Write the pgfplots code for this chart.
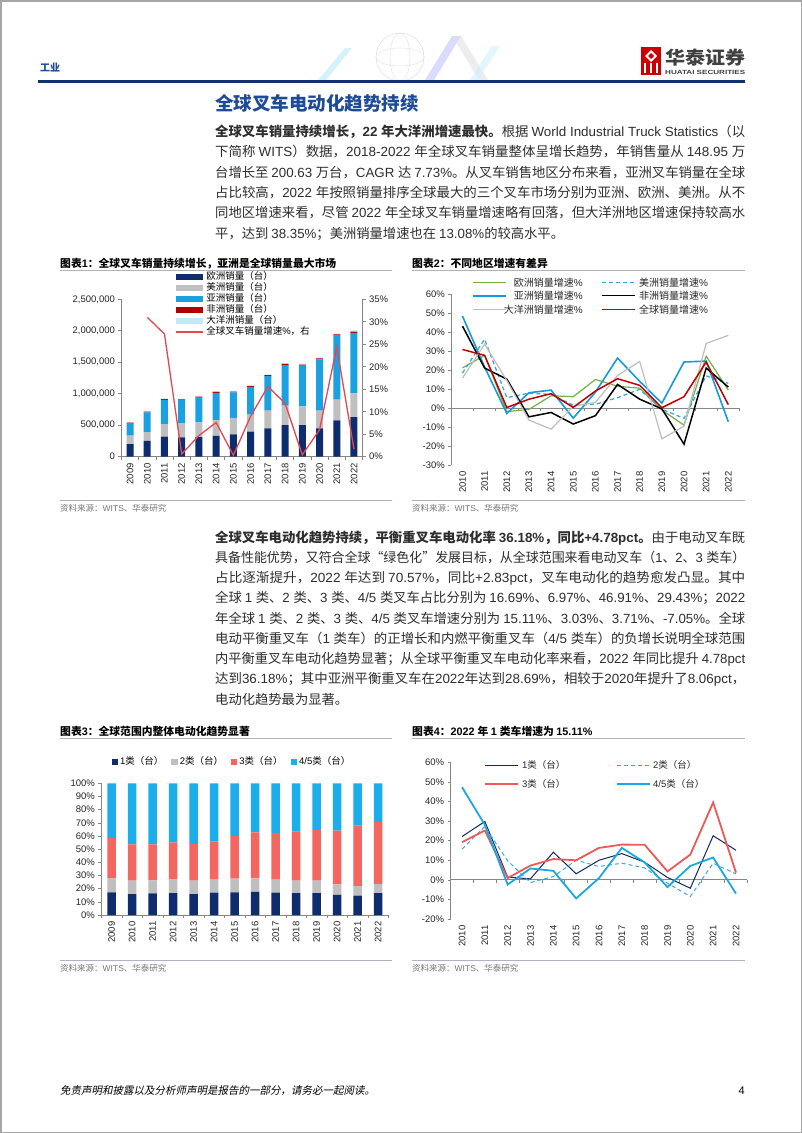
\documentclass[border=0pt]{standalone}
\usepackage{graphicx}
\usepackage{pgfplots}
\pgfplotsset{compat=1.18}
\usepackage{fontspec}
\setmainfont{Liberation Sans}
\newfontfamily\cjkup{Noto Sans CJK SC}
\newfontfamily\cjkslant{Noto Sans CJK SC}[FakeSlant=0.2]
\newcommand\cjkfont{\cjkup}
\XeTeXinterchartokenstate=1
\newXeTeXintercharclass\CJKcls
\newcount\cjkcnt
\def\setcjkrange#1#2{\cjkcnt=#1\relax\loop\XeTeXcharclass\cjkcnt=\CJKcls\relax\ifnum\cjkcnt<#2\relax\advance\cjkcnt by 1\relax\repeat}
\setcjkrange{"4E00}{"9FFF}
\setcjkrange{"3000}{"303F}
\setcjkrange{"FF00}{"FFEF}
\XeTeXcharclass"201C=\CJKcls
\XeTeXcharclass"201D=\CJKcls
\XeTeXinterchartoks 0 \CJKcls = {\cjkfont}
\XeTeXinterchartoks 4095 \CJKcls = {\cjkfont}
\XeTeXinterchartoks \CJKcls 0 = {\rmfamily}
\XeTeXinterchartoks 4095 0 = {\rmfamily}

\definecolor{hdrnavy}{RGB}{16,51,112}
\definecolor{titleblue}{RGB}{30,75,150}
\definecolor{ulgray}{RGB}{170,180,195}
\definecolor{srcgray}{RGB}{120,120,120}
\definecolor{axgray}{RGB}{134,134,134}
\definecolor{eu}{RGB}{13,45,110}
\definecolor{am}{RGB}{191,191,191}
\definecolor{as}{RGB}{27,161,226}
\definecolor{af}{RGB}{176,0,0}
\definecolor{oc}{RGB}{197,232,247}
\definecolor{glred}{RGB}{228,72,78}
\definecolor{ggreen}{RGB}{118,176,71}
\definecolor{gdash}{RGB}{60,168,222}
\definecolor{gasia}{RGB}{23,155,215}
\definecolor{gocean}{RGB}{190,190,190}
\definecolor{gglobal}{RGB}{192,0,0}
\definecolor{cA}{RGB}{14,44,110}
\definecolor{cB}{RGB}{191,191,191}
\definecolor{cC}{RGB}{244,102,96}
\definecolor{cD}{RGB}{28,174,234}
\definecolor{lA}{RGB}{16,42,100}
\definecolor{lC}{RGB}{240,88,88}
\definecolor{lD}{RGB}{26,168,224}

\newcommand\bodyf{\fontsize{13.3}{16}\selectfont\color{black!82}}
\newcommand\fl[2]{\node[anchor=base west, inner sep=0pt] at (215pt,-#1pt) {\resizebox{530pt}{\height}{\bodyf #2}};}
\newcommand\nl[2]{\node[anchor=base west, inner sep=0pt] at (215pt,-#1pt) {\bodyf #2};}
\newcommand\lgB{\fontsize{10}{11}\selectfont\color{black!85}}
\newcommand\lgD{\fontsize{9.5}{10}\selectfont\color{black!85}}

\pgfplotsset{
  base/.style={scale only axis, anchor=south west, clip=false,
    axis line style={axgray, line width=0.7pt},
    tick style={axgray, line width=0.6pt},
    tick align=outside, major tick length=3pt, minor tick length=3pt,
    tick label style={font=\fontsize{9.5}{10}\selectfont, text=black!85},
    /pgf/number format/assume math mode=true,
    xticklabel style={rotate=90, anchor=east},
    major x tick style={draw=none}},
  barleg/.style={legend image code/.code={\draw[##1,draw=none] (0pt,-2.8pt) rectangle (27pt,2.8pt);}},
  sqleg/.style={legend image code/.code={\draw[##1,draw=none] (0pt,-3.2pt) rectangle (6.4pt,3.2pt);}},
  ll/.style 2 args={legend image code/.code={\draw[#1] (0pt,0pt) -- (#2,0pt);}},
}

\begin{document}
\begin{tikzpicture}
\useasboundingbox (0,0) rectangle (802pt,-1133pt);
\fill[white] (0,0) rectangle (802pt,-1133pt);
\draw[gray!70, line width=1.5pt] (0.75pt,-0.75pt) rectangle (801.25pt,-1132.25pt);

% watermark
\begin{scope}[opacity=0.55]
\draw[gray!40, line width=0.6pt] (400pt,-57pt) circle (24pt);
\draw[gray!35, line width=0.5pt] (400pt,-57pt) ellipse (10pt and 24pt);
\draw[gray!35, line width=0.5pt] (400pt,-57pt) ellipse (24pt and 9pt);
\fill[cyan!30] (318pt,-80pt) -- (345pt,-48pt) -- (352pt,-48pt) -- (326pt,-80pt) -- cycle;
\fill[blue!25] (425pt,-80pt) -- (452pt,-36pt) -- (461pt,-36pt) -- (434pt,-80pt) -- cycle;
\fill[gray!25] (452pt,-36pt) -- (461pt,-36pt) -- (488pt,-80pt) -- (479pt,-80pt) -- cycle;
\fill[cyan!20] (470pt,-80pt) -- (492pt,-46pt) -- (500pt,-46pt) -- (478pt,-80pt) -- cycle;
\end{scope}

% header
\node[anchor=base west, inner sep=0pt] at (40pt,-71pt) {\fontsize{10}{11}\selectfont\bfseries\color{titleblue}工业};
\fill[hdrnavy] (38pt,-79.5pt) rectangle (745pt,-82.5pt);
\fill[red!80!black] (641pt,-47pt) rectangle (661pt,-75pt);
\fill[white] (651pt,-50pt) -- (657pt,-56pt) -- (651pt,-62pt) -- (645pt,-56pt) -- cycle;
\fill[red!80!black] (651pt,-53pt) -- (654pt,-56pt) -- (651pt,-59pt) -- (648pt,-56pt) -- cycle;
\fill[white] (644pt,-63pt) rectangle (646pt,-73pt);
\fill[white] (650pt,-63pt) rectangle (652pt,-73pt);
\fill[white] (656pt,-63pt) rectangle (658pt,-73pt);
\node[anchor=base west, inner sep=0pt] at (665pt,-64pt) {\resizebox{80pt}{\height}{\fontsize{18}{19}\selectfont\bfseries\color{black!75}华泰证券}};
\node[anchor=base west, inner sep=0pt] at (665pt,-74pt) {\resizebox{80pt}{\height}{\fontsize{6}{7}\selectfont\bfseries\color{black!75}HUATAI SECURITIES}};

% section title
\node[anchor=base west, inner sep=0pt] at (215pt,-110pt) {\fontsize{18.5}{20}\selectfont\bfseries\color{titleblue}全球叉车电动化趋势持续};

% paragraph 1
\fl{136.5}{{\bfseries 全球叉车销量持续增长，22 年大洋洲增速最快。}根据 World Industrial Truck Statistics（以}
\fl{156.8}{下简称 WITS）数据，2018-2022 年全球叉车销量整体呈增长趋势，年销售量从 148.95 万}
\fl{177.1}{台增长至 200.63 万台，CAGR 达 7.73\%。从叉车销售地区分布来看，亚洲叉车销量在全球}
\fl{197.4}{占比较高，2022 年按照销量排序全球最大的三个叉车市场分别为亚洲、欧洲、美洲。从不}
\fl{217.7}{同地区增速来看，尽管 2022 年全球叉车销量增速略有回落，但大洋洲地区增速保持较高水}
\nl{238}{平，达到 38.35\%；美洲销量增速也在 13.08\%的较高水平。}

% paragraph 2
\fl{542}{{\bfseries 全球叉车电动化趋势持续，平衡重叉车电动化率 36.18\%，同比+4.78pct。}由于电动叉车既}
\fl{562.25}{具备性能优势，又符合全球“绿色化”发展目标，从全球范围来看电动叉车（1、2、3 类车）}
\fl{582.5}{占比逐渐提升，2022 年达到 70.57\%，同比+2.83pct，叉车电动化的趋势愈发凸显。其中}
\fl{602.75}{全球 1 类、2 类、3 类、4/5 类叉车占比分别为 16.69\%、6.97\%、46.91\%、29.43\%；2022}
\fl{623}{年全球 1 类、2 类、3 类、4/5 类叉车增速分别为 15.11\%、3.03\%、3.71\%、-7.05\%。全球}
\fl{643.25}{电动平衡重叉车（1 类车）的正增长和内燃平衡重叉车（4/5 类车）的负增长说明全球范围}
\fl{663.5}{内平衡重叉车电动化趋势显著；从全球平衡重叉车电动化率来看，2022 年同比提升 4.78pct}
\fl{683.75}{达到36.18\%；其中亚洲平衡重叉车在2022年达到28.69\%，相较于2020年提升了8.06pct，}
\nl{704}{电动化趋势最为显著。}

% chart titles, rules, sources
\node[anchor=base west, inner sep=0pt] at (60pt,-267pt) {\fontsize{10.8}{12}\selectfont\bfseries 图表1：全球叉车销量持续增长，亚洲是全球销量最大市场};
\node[anchor=base west, inner sep=0pt] at (412pt,-267pt) {\fontsize{10.8}{12}\selectfont\bfseries 图表2：不同地区增速有差异};
\node[anchor=base west, inner sep=0pt] at (60pt,-735pt) {\fontsize{10.8}{12}\selectfont\bfseries 图表3：全球范围内整体电动化趋势显著};
\node[anchor=base west, inner sep=0pt] at (412pt,-735pt) {\fontsize{10.8}{12}\selectfont\bfseries 图表4：2022 年 1 类车增速为 15.11\%};
\draw[ulgray, line width=0.8pt] (60pt,-270.5pt) -- (392pt,-270.5pt);
\draw[ulgray, line width=0.8pt] (412pt,-270.5pt) -- (745pt,-270.5pt);
\draw[ulgray, line width=0.8pt] (60pt,-738.5pt) -- (392pt,-738.5pt);
\draw[ulgray, line width=0.8pt] (412pt,-738.5pt) -- (745pt,-738.5pt);
\draw[ulgray, line width=0.8pt] (60pt,-500pt) -- (392pt,-500pt);
\draw[ulgray, line width=0.8pt] (412pt,-500pt) -- (745pt,-500pt);
\draw[ulgray, line width=0.8pt] (60pt,-960pt) -- (392pt,-960pt);
\draw[ulgray, line width=0.8pt] (412pt,-960pt) -- (745pt,-960pt);
\node[anchor=base west, inner sep=0pt] at (60pt,-511pt) {\fontsize{8.5}{9}\selectfont\color{srcgray}资料来源：WITS、华泰研究};
\node[anchor=base west, inner sep=0pt] at (412pt,-511pt) {\fontsize{8.5}{9}\selectfont\color{srcgray}资料来源：WITS、华泰研究};
\node[anchor=base west, inner sep=0pt] at (60pt,-971pt) {\fontsize{8.5}{9}\selectfont\color{srcgray}资料来源：WITS、华泰研究};
\node[anchor=base west, inner sep=0pt] at (412pt,-971pt) {\fontsize{8.5}{9}\selectfont\color{srcgray}资料来源：WITS、华泰研究};

% footer
\node[anchor=base west, inner sep=0pt] at (60pt,-1094pt) {\fontsize{10.5}{11}\selectfont\renewcommand\cjkfont{\cjkslant}免责声明和披露以及分析师声明是报告的一部分，请务必一起阅读。};
\node[anchor=base east, inner sep=0pt] at (745pt,-1094pt) {\fontsize{11}{12}\selectfont 4};

% ---------- Chart 1 ----------
\begin{axis}[base,
  at={(121.4pt,-456.7pt)}, width=241.2pt, height=157.4pt,
  xmin=-0.5, xmax=13.5, ymin=0, ymax=2500000,
  axis x line*=bottom, axis y line*=left,
  ybar stacked, bar width=7pt,
  xtick={0,...,13},
  xticklabels={2009,2010,2011,2012,2013,2014,2015,2016,2017,2018,2019,2020,2021,2022},
  minor xtick={-0.5,0.5,...,13.5},
  ytick={0,500000,1000000,1500000,2000000,2500000},
  scaled y ticks=false,
  yticklabel style={/pgf/number format/.cd, fixed, 1000 sep={,}},
  legend style={at={(0.2222,1.1766)}, anchor=north west, draw=none, fill=none,
    inner sep=0pt, outer sep=0pt, font=\fontsize{9.5}{10}\selectfont, row sep=0pt,
    nodes={inner sep=0pt, text height=7.5pt, text depth=3.5pt},
    /tikz/every odd column/.append style={column sep=3pt}},
  legend cell align=left,
]
\addplot[fill=eu, draw=none, barleg] coordinates {(0,200000)(1,250000)(2,318000)(3,307000)(4,310000)(5,330000)(6,355000)(7,400000)(8,450000)(9,500000)(10,500000)(11,450000)(12,578000)(13,630000)};
\addlegendentry{欧洲销量（台）}
\addplot[fill=am, draw=none, barleg] coordinates {(0,135000)(1,140000)(2,200000)(3,225000)(4,235000)(5,250000)(6,260000)(7,270000)(8,280000)(9,310000)(10,300000)(11,280000)(12,328000)(13,377000)};
\addlegendentry{美洲销量（台）}
\addplot[fill=as, draw=none, barleg] coordinates {(0,200000)(1,315000)(2,385000)(3,365000)(4,395000)(5,435000)(6,405000)(7,440000)(8,550000)(9,645000)(10,645000)(11,817000)(12,1024000)(13,960000)};
\addlegendentry{亚洲销量（台）}
\addplot[fill=af, draw=none, barleg] coordinates {(0,8000)(1,12000)(2,13000)(3,13000)(4,14000)(5,14000)(6,13000)(7,13000)(8,16000)(9,18000)(10,17000)(11,15000)(12,15000)(13,18000)};
\addlegendentry{非洲销量（台）}
\addplot[fill=oc, draw=none, barleg] coordinates {(0,8000)(1,10000)(2,12000)(3,12000)(4,12000)(5,12000)(6,12000)(7,12000)(8,13000)(9,17000)(10,16000)(11,15000)(12,15000)(13,20000)};
\addlegendentry{大洋洲销量（台）}
\addlegendimage{ll={glred, line width=1.3pt}{27pt}}
\addlegendentry{全球叉车销量增速\%，右}
\end{axis}
\begin{axis}[base,
  at={(121.4pt,-456.7pt)}, width=241.2pt, height=157.4pt,
  xmin=-0.5, xmax=13.5, ymin=0, ymax=35,
  axis y line*=right, axis x line=none,
  ytick={0,5,...,35}, yticklabel={\pgfmathprintnumber{\tick}\%},
]
\addplot[glred, line width=1.3pt] coordinates {(1,31.0)(2,27.3)(3,0.6)(4,4.7)(5,7.6)(6,0.3)(7,9.0)(8,15.6)(9,11.9)(10,0.4)(11,6.0)(12,24.4)(13,1.7)};
\end{axis}

% ---------- Chart 2 ----------
\begin{axis}[base,
  at={(451.4pt,-465pt)}, width=288pt, height=170.7pt,
  xmin=-0.5, xmax=12.5, ymin=-30, ymax=60,
  axis x line*=bottom, axis y line*=left, x axis line style={draw=none},
  xtick={0,...,12},
  xticklabels={2010,2011,2012,2013,2014,2015,2016,2017,2018,2019,2020,2021,2022},
  ytick={-30,-20,...,60}, yticklabel={\pgfmathprintnumber{\tick}\%},
]
\draw[axgray, line width=0.7pt] (axis cs:-0.5,0) -- (axis cs:12.5,0);
\pgfplotsinvokeforeach{-0.5,0.5,...,12.5}{\draw[axgray, line width=0.6pt] (axis cs:#1,0) -- ++(0pt,-3pt);}
\addplot[ggreen, line width=1.2pt] coordinates {(0,21.2)(1,27.8)(2,-1.8)(3,-0.7)(4,6.5)(5,6.0)(6,15.1)(7,11.5)(8,10.5)(9,-1.0)(10,-9.0)(11,27.4)(12,9.5)};
\addplot[gdash, line width=1.3pt, dash pattern=on 4pt off 3pt] coordinates {(0,18.5)(1,36.3)(2,5.5)(3,7.9)(4,7.2)(5,1.5)(6,2.0)(7,5.5)(8,9.9)(9,-0.6)(10,-5.4)(11,17.0)(12,13.08)};
\addplot[gasia, line width=1.6pt] coordinates {(0,48.5)(1,21.6)(2,-2.8)(3,8.1)(4,9.5)(5,-5.3)(6,8.4)(7,26.4)(8,14.1)(9,2.6)(10,24.3)(11,24.8)(12,-7.2)};
\addplot[black, line width=1.5pt] coordinates {(0,43.2)(1,21.1)(2,15.3)(3,-4.6)(4,-2.3)(5,-8.4)(6,-4.0)(7,12.5)(8,4.7)(9,-0.4)(10,-19.0)(11,21.1)(12,11.1)};
\addplot[gocean, line width=1.2pt] coordinates {(0,15.8)(1,33.7)(2,14.6)(3,-6.3)(4,-11.1)(5,0.9)(6,3.0)(7,17.2)(8,24.6)(9,-16.2)(10,-9.5)(11,34.1)(12,38.35)};
\addplot[gglobal, line width=1.5pt] coordinates {(0,30.9)(1,27.8)(2,0.3)(3,4.7)(4,7.6)(5,0.4)(6,9.0)(7,15.5)(8,12.0)(9,0.2)(10,6.0)(11,24.3)(12,1.8)};
\end{axis}
% chart 2 legend
\draw[ggreen, line width=1.2pt] (472.7pt,-282.3pt) -- (506pt,-282.3pt);
\node[anchor=base east, inner sep=0pt] at (583pt,-286.1pt) {\lgB 欧洲销量增速\%};
\draw[gdash, line width=1.3pt, dash pattern=on 4pt off 3pt] (601.7pt,-282.3pt) -- (635pt,-282.3pt);
\node[anchor=base west, inner sep=0pt] at (639pt,-286.1pt) {\lgB 美洲销量增速\%};
\draw[gasia, line width=1.6pt] (472.7pt,-295.7pt) -- (506pt,-295.7pt);
\node[anchor=base east, inner sep=0pt] at (583pt,-299.5pt) {\lgB 亚洲销量增速\%};
\draw[black, line width=1.5pt] (601.7pt,-295.7pt) -- (635pt,-295.7pt);
\node[anchor=base west, inner sep=0pt] at (639pt,-299.5pt) {\lgB 非洲销量增速\%};
\draw[gocean, line width=1.2pt] (472.7pt,-309.3pt) -- (506pt,-309.3pt);
\node[anchor=base east, inner sep=0pt] at (583pt,-313.1pt) {\lgB 大洋洲销量增速\%};
\draw[gglobal, line width=1.5pt] (601.7pt,-309.3pt) -- (635pt,-309.3pt);
\node[anchor=base west, inner sep=0pt] at (639pt,-313.1pt) {\lgB 全球销量增速\%};

% ---------- Chart 3 ----------
\begin{axis}[base,
  at={(101.45pt,-915pt)}, width=287pt, height=131.7pt,
  xmin=-0.5, xmax=13.5, ymin=0, ymax=100,
  axis x line*=bottom, axis y line*=left,
  ybar stacked, bar width=8.5pt,
  xtick={0,...,13},
  xticklabels={2009,2010,2011,2012,2013,2014,2015,2016,2017,2018,2019,2020,2021,2022},
  minor xtick={-0.5,0.5,...,13.5},
  ytick={0,10,...,100}, yticklabel={\pgfmathprintnumber{\tick}\%},
  legend columns=4,
  legend style={at={(0.0357,1.202)}, anchor=north west, draw=none, fill=none,
    inner sep=0pt, outer sep=0pt, font=\fontsize{9.5}{10}\selectfont,
    nodes={inner sep=0pt, text height=7.5pt, text depth=2.5pt},
    /tikz/every odd column/.append style={column sep=2pt},
    /tikz/every even column/.append style={column sep=8pt}},
  legend cell align=left,
]
\addplot[fill=cA, draw=none, sqleg] coordinates {(0,17.2)(1,15.9)(2,16.5)(3,16.7)(4,15.9)(5,17.0)(6,17.2)(7,17.5)(8,17.0)(9,16.7)(10,16.7)(11,15.2)(12,14.7)(13,16.69)};
\addlegendentry{1类（台）}
\addplot[fill=cB, draw=none, sqleg] coordinates {(0,10.9)(1,10.2)(2,9.8)(3,10.6)(4,10.2)(5,9.8)(6,10.4)(7,10.3)(8,9.8)(9,9.4)(10,9.4)(11,8.1)(12,7.3)(13,6.97)};
\addlegendentry{2类（台）}
\addplot[fill=cC, draw=none, sqleg] coordinates {(0,30.4)(1,27.6)(2,27.4)(3,27.9)(4,27.8)(5,28.9)(6,32.4)(7,35.0)(8,35.5)(9,37.2)(10,38.5)(11,40.7)(12,45.8)(13,46.91)};
\addlegendentry{3类（台）}
\addplot[fill=cD, draw=none, sqleg] coordinates {(0,41.5)(1,46.3)(2,46.3)(3,44.8)(4,46.1)(5,44.3)(6,40.0)(7,37.2)(8,37.7)(9,36.7)(10,35.4)(11,36.0)(12,32.2)(13,29.43)};
\addlegendentry{4/5类（台）}
\end{axis}

% ---------- Chart 4 ----------
\begin{axis}[base,
  at={(450.6pt,-919pt)}, width=296.8pt, height=156.7pt,
  xmin=-0.5, xmax=12.5, ymin=-20, ymax=60,
  axis x line*=bottom, axis y line*=left, x axis line style={draw=none},
  xtick={0,...,12},
  xticklabels={2010,2011,2012,2013,2014,2015,2016,2017,2018,2019,2020,2021,2022},
  ytick={-20,-10,...,60}, yticklabel={\pgfmathprintnumber{\tick}\%},
]
\draw[axgray, line width=0.7pt] (axis cs:-0.5,0) -- (axis cs:12.5,0);
\pgfplotsinvokeforeach{-0.5,0.5,...,12.5}{\draw[axgray, line width=0.6pt] (axis cs:#1,0) -- ++(0pt,-3pt);}
\addplot[lA, line width=1pt] coordinates {(0,22.1)(1,29.8)(2,1.4)(3,0.5)(4,14.1)(5,3.1)(6,10.0)(7,13.4)(8,9.0)(9,1.2)(10,-4.3)(11,22.5)(12,15.11)};
\addplot[gdash, line width=1pt, dash pattern=on 4pt off 3pt] coordinates {(0,15.7)(1,27.2)(2,9.7)(3,-1.4)(4,1.7)(5,10.0)(6,6.8)(7,8.5)(8,6.1)(9,-1.7)(10,-8.5)(11,8.5)(12,3.03)};
\addplot[lC, line width=1.8pt] coordinates {(0,19.2)(1,25.2)(2,0.9)(3,7.3)(4,10.6)(5,10.0)(6,16.3)(7,18.0)(8,17.9)(9,4.3)(10,12.9)(11,39.5)(12,3.71)};
\addplot[lD, line width=1.8pt] coordinates {(0,47.3)(1,28.1)(2,-2.4)(3,5.8)(4,4.6)(5,-9.5)(6,0.9)(7,16.3)(8,8.9)(9,-3.7)(10,7.1)(11,11.4)(12,-7.05)};
\end{axis}
% chart 4 legend
\draw[lA, line width=1pt] (485pt,-765pt) -- (518pt,-765pt);
\node[anchor=base west, inner sep=0pt] at (522pt,-768.6pt) {\lgD 1类（台）};
\draw[gdash, line width=1pt, dash pattern=on 4pt off 3pt] (616.7pt,-765pt) -- (650pt,-765pt);
\node[anchor=base west, inner sep=0pt] at (653pt,-768.6pt) {\lgD 2类（台）};
\draw[lC, line width=1.8pt] (485pt,-784pt) -- (518pt,-784pt);
\node[anchor=base west, inner sep=0pt] at (522pt,-787.6pt) {\lgD 3类（台）};
\draw[lD, line width=1.8pt] (616.7pt,-784pt) -- (650pt,-784pt);
\node[anchor=base west, inner sep=0pt] at (653pt,-787.6pt) {\lgD 4/5类（台）};
\end{tikzpicture}
\end{document}
